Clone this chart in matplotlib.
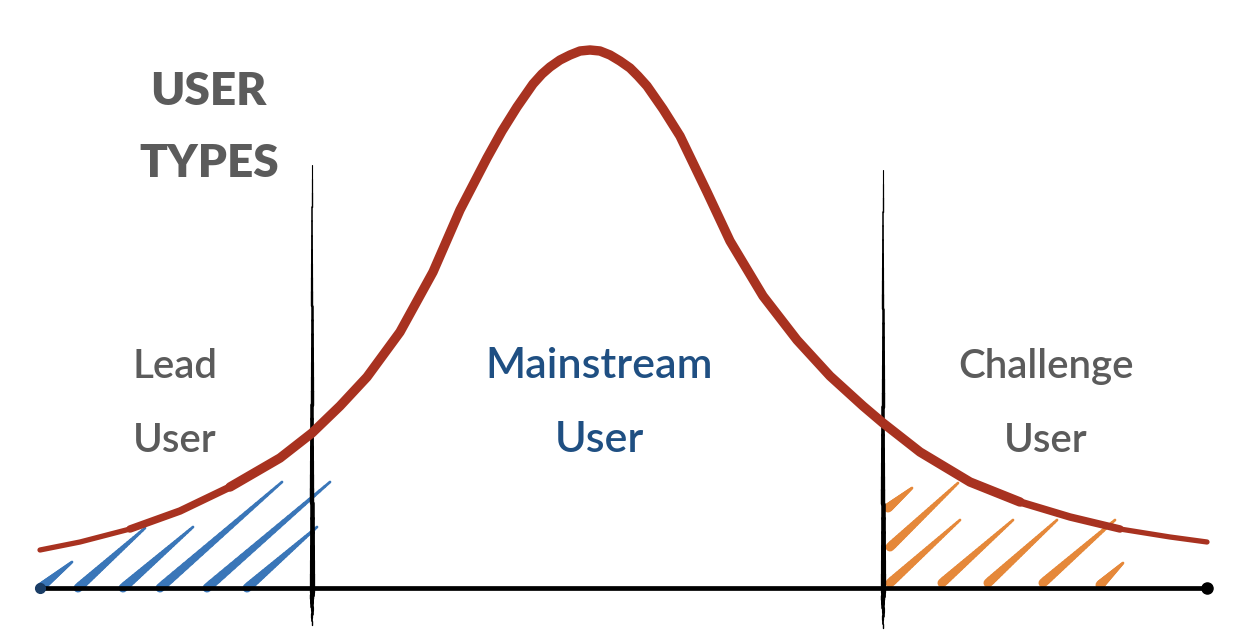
import numpy as np
import matplotlib
matplotlib.use("Agg")
import matplotlib.pyplot as plt
from matplotlib.collections import LineCollection

# --- data (x: distance from the peak, y: height above the axis) ---
curve_x = [-550, -510, -460, -410, -360, -310, -278, -250, -223, -190, -157, -130,
           -103, -88, -73, -57, -48, -40, -30, -20, -10, 0, 10, 20, 30, 40, 48,
           57, 73, 90, 117, 140, 173, 207, 240, 273, 293, 330, 380, 430, 480,
           530, 580, 617]
curve_y = [38, 46, 59, 77, 101, 130, 155, 182, 211, 256, 316, 378,
           430, 457, 481, 504, 514, 521, 528, 533, 537, 538, 537, 533, 527, 520, 512,
           502, 479, 452, 396, 347, 292, 248, 212, 182, 165, 136, 106, 86, 71,
           59, 51, 46]

split_x = [-278, 293]          # vertical separators
split_top = [423, 418]
split_bottom = [-37, -40]

axis_x = [-550, 617]

# hatch strokes: (x0, y0, x1, y1)
lead_hatch = [(-550, 0, -518, 26), (-512, 0, -445, 60), (-467, 0, -397, 61),
              (-430, 0, -308, 106), (-383, 0, -260, 106), (-343, 0, -273, 61)]
challenge_hatch = [(298, 80, 322, 100), (300, 41, 368, 105), (300, 5, 370, 68),
                   (352, 5, 423, 68), (398, 5, 467, 68), (453, 5, 525, 68),
                   (510, 3, 533, 25)]

title_lines = ["USER", "TYPES"]
groups = [("Lead", "User"), ("Mainstream", "User"), ("Challenge", "User")]
group_x = [-415, 9, 456]

RED = "#a83220"
BLUE = "#3a76b8"
ORANGE = "#e5883a"
GRAY = "#5b5b5b"
NAVY = "#1f4f82"
FONT = ["Lato", "DejaVu Sans"]


def stroke(ax, x0, y0, x1, y1, color, w0, w1, n=24, z=3):
    xs = np.linspace(x0, x1, n + 1)
    ys = np.linspace(y0, y1, n + 1)
    segs = [[(xs[i], ys[i]), (xs[i + 1], ys[i + 1])] for i in range(n)]
    lc = LineCollection(segs, colors=color, linewidths=np.linspace(w0, w1, n),
                        capstyle="round", zorder=z)
    ax.add_collection(lc)


fig = plt.figure(figsize=(12.42, 6.43), dpi=100)
ax = fig.add_axes([0, 0, 1, 1])
ax.set_xlim(-590, 652)
ax.set_ylim(-55, 588)
ax.axis("off")

# hatching
for (x0, y0, x1, y1) in lead_hatch:
    stroke(ax, x0, y0, x1, y1, BLUE, 6.5, 2.0, z=2)
for (x0, y0, x1, y1) in challenge_hatch:
    stroke(ax, x0, y0, x1, y1, ORANGE, 6.5, 2.0, z=2)

# axis line
ax.plot(axis_x, [0, 0], color="black", lw=3.4, solid_capstyle="round", zorder=4)
ax.plot([axis_x[1]], [0], "o", color="black", ms=8, zorder=4)
ax.plot([axis_x[0]], [0], "o", color="#1a3d66", ms=7, zorder=4)

# separators
for sx, top, bot in zip(split_x, split_top, split_bottom):
    stroke(ax, sx, bot, sx, 0, "black", 1.0, 3.8, n=10, z=4)
    stroke(ax, sx, 0, sx, top, "black", 3.8, 0.8, n=30, z=4)

# bell curve: thin brush at the tails, full width in the body
ax.plot(curve_x, curve_y, color=RED, lw=3.8, solid_capstyle="round",
        solid_joinstyle="round", zorder=5)
ax.plot(curve_x[2:-2], curve_y[2:-2], color=RED, lw=5.4, solid_capstyle="round",
        solid_joinstyle="round", zorder=5)
ax.plot(curve_x[4:-4], curve_y[4:-4], color=RED, lw=6.8, solid_capstyle="round",
        solid_joinstyle="round", zorder=5)

# labels
ax.text(-382, 483, title_lines[0], color=GRAY, fontsize=33, fontweight="heavy",
        family=FONT, ha="center", va="baseline")
ax.text(-381, 411, title_lines[1], color=GRAY, fontsize=33, fontweight="heavy",
        family=FONT, ha="center", va="baseline")

for (top, bottom), gx in zip(groups, group_x):
    c = NAVY if top == "Mainstream" else GRAY
    fs = 31 if top == "Mainstream" else 29
    ax.text(gx, 210, top, color=c, fontsize=fs, fontweight="semibold",
            family=FONT, ha="center", va="baseline")
    ax.text(gx, 136, bottom, color=c, fontsize=fs, fontweight="semibold",
            family=FONT, ha="center", va="baseline")

fig.savefig("out.png", dpi=100)
